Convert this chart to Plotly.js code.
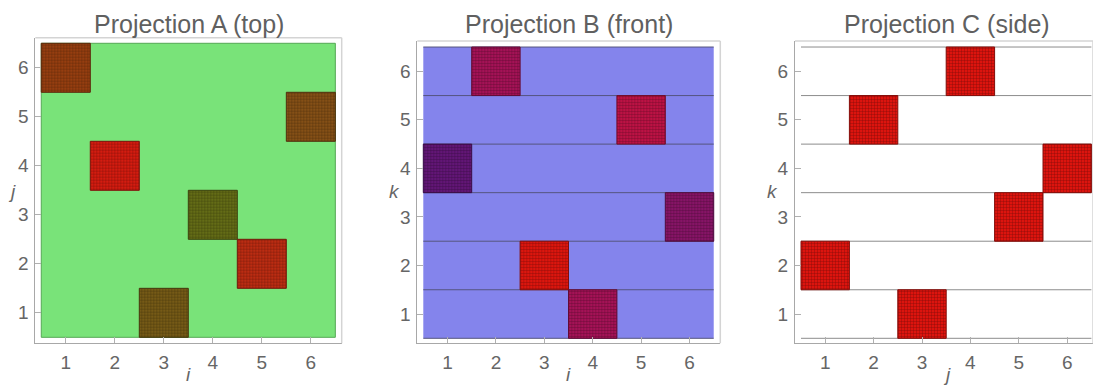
<!DOCTYPE html>
<html>
<head>
<meta charset="utf-8">
<script src="https://cdn.plot.ly/plotly-3.0.1.min.js"></script>
<style>html,body{margin:0;padding:0;background:#fff;}#chart{width:1093px;height:385px;}</style>
</head>
<body>
<div id="chart"></div>
<script>
// ---- data: positions of the six cubes (i, j, k) ----
const iPos = [1, 2, 3, 4, 5, 6];
const jPos = [6, 4, 1, 3, 2, 5];
const kPos = [4, 6, 2, 1, 5, 3];
// colours of each cube as seen in each projection
const colorsA = ['#963e10', '#d41c10', '#765a16', '#646c16', '#bc2c12', '#855016'];
const colorsB = ['#621676', '#a41256', '#dc160e', '#a41256', '#bc1244', '#861466'];
const colorsC = ['#dc140e', '#dc140e', '#dc140e', '#dc140e', '#dc140e', '#dc140e'];
const tickVals = [1, 2, 3, 4, 5, 6];
const tickText = ['1', '2', '3', '4', '5', '6'];
const titles = ['Projection A (top)', 'Projection B (front)', 'Projection C (side)'];
const xTitles = ['i', 'i', 'j'];
const yTitles = ['j', 'k', 'k'];

const W = 1093, H = 385;
const n = tickVals.length;
const lo = 0.5, hi = n + 0.5;

function darker(hex, f) {
  const r = parseInt(hex.slice(1,3),16), g = parseInt(hex.slice(3,5),16), b = parseInt(hex.slice(5,7),16);
  const c = v => Math.round(v*f).toString(16).padStart(2,'0');
  return '#' + c(r) + c(g) + c(b);
}

function cubeTraces(xs, ys, cols, ax) {
  return xs.map((xv, idx) => ({
    type: 'bar', x: [xv], y: [1], base: [ys[idx] - 0.5], width: 1,
    xaxis: 'x' + ax, yaxis: 'y' + ax, hoverinfo: 'skip', showlegend: false,
    marker: {
      color: cols[idx],
      line: {color: darker(cols[idx], 0.6), width: 1},
      pattern: {shape: '+', size: 3, solidity: 0.22, fillmode: 'overlay',
                fgcolor: darker(cols[idx], 0.55), fgopacity: 1}
    }
  }));
}

const data = [].concat(
  cubeTraces(iPos, jPos, colorsA, ''),
  cubeTraces(iPos, kPos, colorsB, '2'),
  cubeTraces(jPos, kPos, colorsC, '3')
);

// frames in pixels: [left, right, top, bottom]
const frames = [[35.3, 341.7, 37.7, 343.3], [417.3, 720.3, 41, 343.3], [795, 1093, 41, 343.3]];
const xRanges = [[0.378, 6.63], [0.376, 6.636], [0.376, 6.533]];
const yRanges = [[0.378, 6.614], [0.397, 6.624], [0.397, 6.624]];
const titleCenters = [188.5, 568.8, 946.6];

function axis(range, dom, anchor) {
  return {
    range: range, domain: dom, anchor: anchor, showgrid: false, zeroline: false,
    showline: true, linecolor: '#a8a8a8', linewidth: 1, mirror: false,
    ticks: 'inside', ticklen: 6, tickwidth: 1, tickcolor: '#b0b0b0',
    tickvals: tickVals, ticktext: tickText,
    tickfont: {family: 'Liberation Sans, Arial, sans-serif', size: 19, color: '#666666'},
    fixedrange: true
  };
}

const layout = {
  width: W, height: H, autosize: false,
  margin: {l: 0, r: 0, t: 0, b: 0, pad: 0},
  paper_bgcolor: '#ffffff', plot_bgcolor: '#ffffff',
  barmode: 'overlay', showlegend: false,
  shapes: [], annotations: []
};

const axNames = ['', '2', '3'];
frames.forEach((f, p) => {
  const xd = [f[0]/W, Math.min(1, f[1]/W)];
  const yd = [(H - f[3])/H, (H - f[2])/H];
  const xa = axis(xRanges[p], xd, 'y' + axNames[p]);
  const ya = axis(yRanges[p], yd, 'x' + axNames[p]);
  ya.ticklabelstandoff = 2;
  xa.ticklabelstandoff = 2;
  layout['xaxis' + axNames[p]] = xa;
  layout['yaxis' + axNames[p]] = ya;
  const xr = 'x' + axNames[p], yr = 'y' + axNames[p];
  // light top/right frame
  layout.shapes.push({type: 'line', xref: xr + ' domain', yref: yr + ' domain', x0: 0, x1: 1, y0: 1, y1: 1,
    line: {color: '#d4d4d4', width: 1.5}, layer: 'above'});
  layout.shapes.push({type: 'line', xref: xr + ' domain', yref: yr + ' domain', x0: 1, x1: 1, y0: 0, y1: 1,
    line: {color: '#d4d4d4', width: 1.5}, layer: 'above'});
  // titles
  layout.annotations.push({text: titles[p], xref: 'paper', yref: 'paper', x: titleCenters[p]/W, y: 1 - 24/H,
    xanchor: 'center', yanchor: 'middle', showarrow: false,
    font: {family: 'Liberation Sans, Arial, sans-serif', size: 25, color: '#606060'}});
  // axis labels
  layout.annotations.push({text: '<i>' + xTitles[p] + '</i>', xref: 'paper', yref: 'paper',
    x: titleCenters[p]/W, y: 1 - 374/H, xanchor: 'center', yanchor: 'middle', showarrow: false,
    font: {family: 'Liberation Sans, Arial, sans-serif', size: 19, color: '#666666'}});
  layout.annotations.push({text: '<i>' + yTitles[p] + '</i>', xref: 'paper', yref: 'paper',
    x: (f[0] - 23)/W, y: 1 - 192/H, xanchor: 'center', yanchor: 'middle', showarrow: false,
    font: {family: 'Liberation Sans, Arial, sans-serif', size: 19, color: '#666666'}});
});

// panel A: green square background
layout.shapes.push({type: 'rect', xref: 'x', yref: 'y', x0: lo, x1: hi, y0: lo, y1: hi,
  fillcolor: '#79e379', line: {color: '#55a855', width: 1}, layer: 'below'});
// panel B: blue background + row lines
layout.shapes.push({type: 'rect', xref: 'x2', yref: 'y2', x0: lo, x1: hi, y0: lo, y1: hi,
  fillcolor: '#8484ec', line: {width: 0}, layer: 'below'});
for (let r = 0; r <= n; r++) {
  layout.shapes.push({type: 'line', xref: 'x2', yref: 'y2', x0: lo, x1: hi, y0: lo + r, y1: lo + r,
    line: {color: '#55557f', width: 1}, layer: 'below'});
  layout.shapes.push({type: 'line', xref: 'x3', yref: 'y3', x0: lo, x1: hi, y0: lo + r, y1: lo + r,
    line: {color: '#8c8c8c', width: 1}, layer: 'below'});
}

Plotly.newPlot('chart', data, layout, {staticPlot: true, displayModeBar: false});
</script>
</body>
</html>
